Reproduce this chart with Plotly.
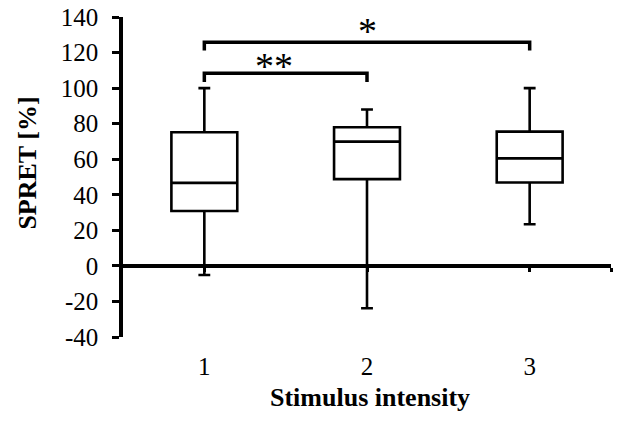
import plotly.graph_objects as go

# ---- data ----
categories = [1, 2, 3]
q1_vals = [30.9, 48.8, 46.9]
median_vals = [46.7, 69.9, 60.5]
q3_vals = [75.2, 78.0, 75.5]
lower_whisker = [-5.1, -23.8, 23.4]
upper_whisker = [100, 88, 100]

y_ticks = [-40, -20, 0, 20, 40, 60, 80, 100, 120, 140]
y_tick_text = ["-40", "-20", "0", "20", "40", "60", "80", "100", "120", "140"]
x_title = "Stimulus intensity"
y_title = "SPRET [%]"

# significance brackets
brk_from = [1, 1]
brk_to = [2, 3]
brk_height = [108.4, 125.8]
brk_drop = [5.0, 4.7]
brk_label = ["**", "*"]
brk_label_x = [1.43, 2.0]
brk_label_y = [112.7, 132.2]

FONT = "Liberation Serif, Times New Roman, serif"

fig = go.Figure()
fig.add_trace(go.Box(
    x=categories, q1=q1_vals, median=median_vals, q3=q3_vals,
    lowerfence=lower_whisker, upperfence=upper_whisker,
    width=0.405, whiskerwidth=0.18,
    line=dict(color="black", width=2.6), fillcolor="white",
    boxpoints=False, showlegend=False, hoverinfo="skip",
))

shapes = []
for a, b, h, d in zip(brk_from, brk_to, brk_height, brk_drop):
    shapes.append(dict(
        type="path", xref="x", yref="y",
        path=f"M {a},{h-d} L {a},{h} L {b},{h} L {b},{h-d}",
        line=dict(color="black", width=3.5),
    ))

annotations = []
for lab, lx, ly in zip(brk_label, brk_label_x, brk_label_y):
    annotations.append(dict(
        x=lx, y=ly, xref="x", yref="y", text=lab, showarrow=False,
        font=dict(family=FONT, size=38, color="black"),
        xanchor="center", yanchor="middle",
    ))
annotations.append(dict(
    x=0.506, y=-0.19, xref="paper", yref="paper", text=f"<b>{x_title}</b>",
    showarrow=False, font=dict(family=FONT, size=26, color="black"),
    xanchor="center", yanchor="middle",
))
annotations.append(dict(
    x=-0.1947, y=0.545, xref="paper", yref="paper", text=f"<b>{y_title}</b>",
    showarrow=False, textangle=-90, font=dict(family=FONT, size=26, color="black"),
    xanchor="center", yanchor="middle",
))

fig.update_layout(
    width=622, height=423,
    margin=dict(l=123, r=11, t=17, b=86),
    paper_bgcolor="white", plot_bgcolor="white",
    font=dict(family=FONT, size=25, color="black"),
    shapes=shapes, annotations=annotations,
    xaxis=dict(
        range=[0.5, 3.5], tickvals=categories, ticktext=[str(c) for c in categories],
        showline=False, showgrid=False, zeroline=False, ticks="",
        ticklabelstandoff=12, tickfont=dict(family=FONT, size=25), automargin=False,
    ),
    xaxis2=dict(
        overlaying="x", anchor="free", position=(0 - y_ticks[0]) / (y_ticks[-1] - y_ticks[0]),
        range=[0.5, 3.5], tickvals=categories + [3.5], showticklabels=False,
        showline=True, linewidth=3.5, linecolor="black",
        ticks="outside", ticklen=4, tickwidth=3, tickcolor="black",
        showgrid=False, zeroline=False, side="bottom", automargin=False,
    ),
    yaxis=dict(
        range=[y_ticks[0], y_ticks[-1]], tickvals=y_ticks, ticktext=y_tick_text,
        showline=True, linewidth=3.5, linecolor="black",
        ticks="outside", ticklen=7, tickwidth=3, tickcolor="black",
        showgrid=False, zeroline=False, ticklabelstandoff=9,
        tickfont=dict(family=FONT, size=25), automargin=False,
    ),
)
fig.add_trace(go.Scatter(x=[1], y=[0], xaxis="x2", mode="markers",
                         marker=dict(opacity=0), showlegend=False, hoverinfo="skip"))

fig.write_html("out.html")
